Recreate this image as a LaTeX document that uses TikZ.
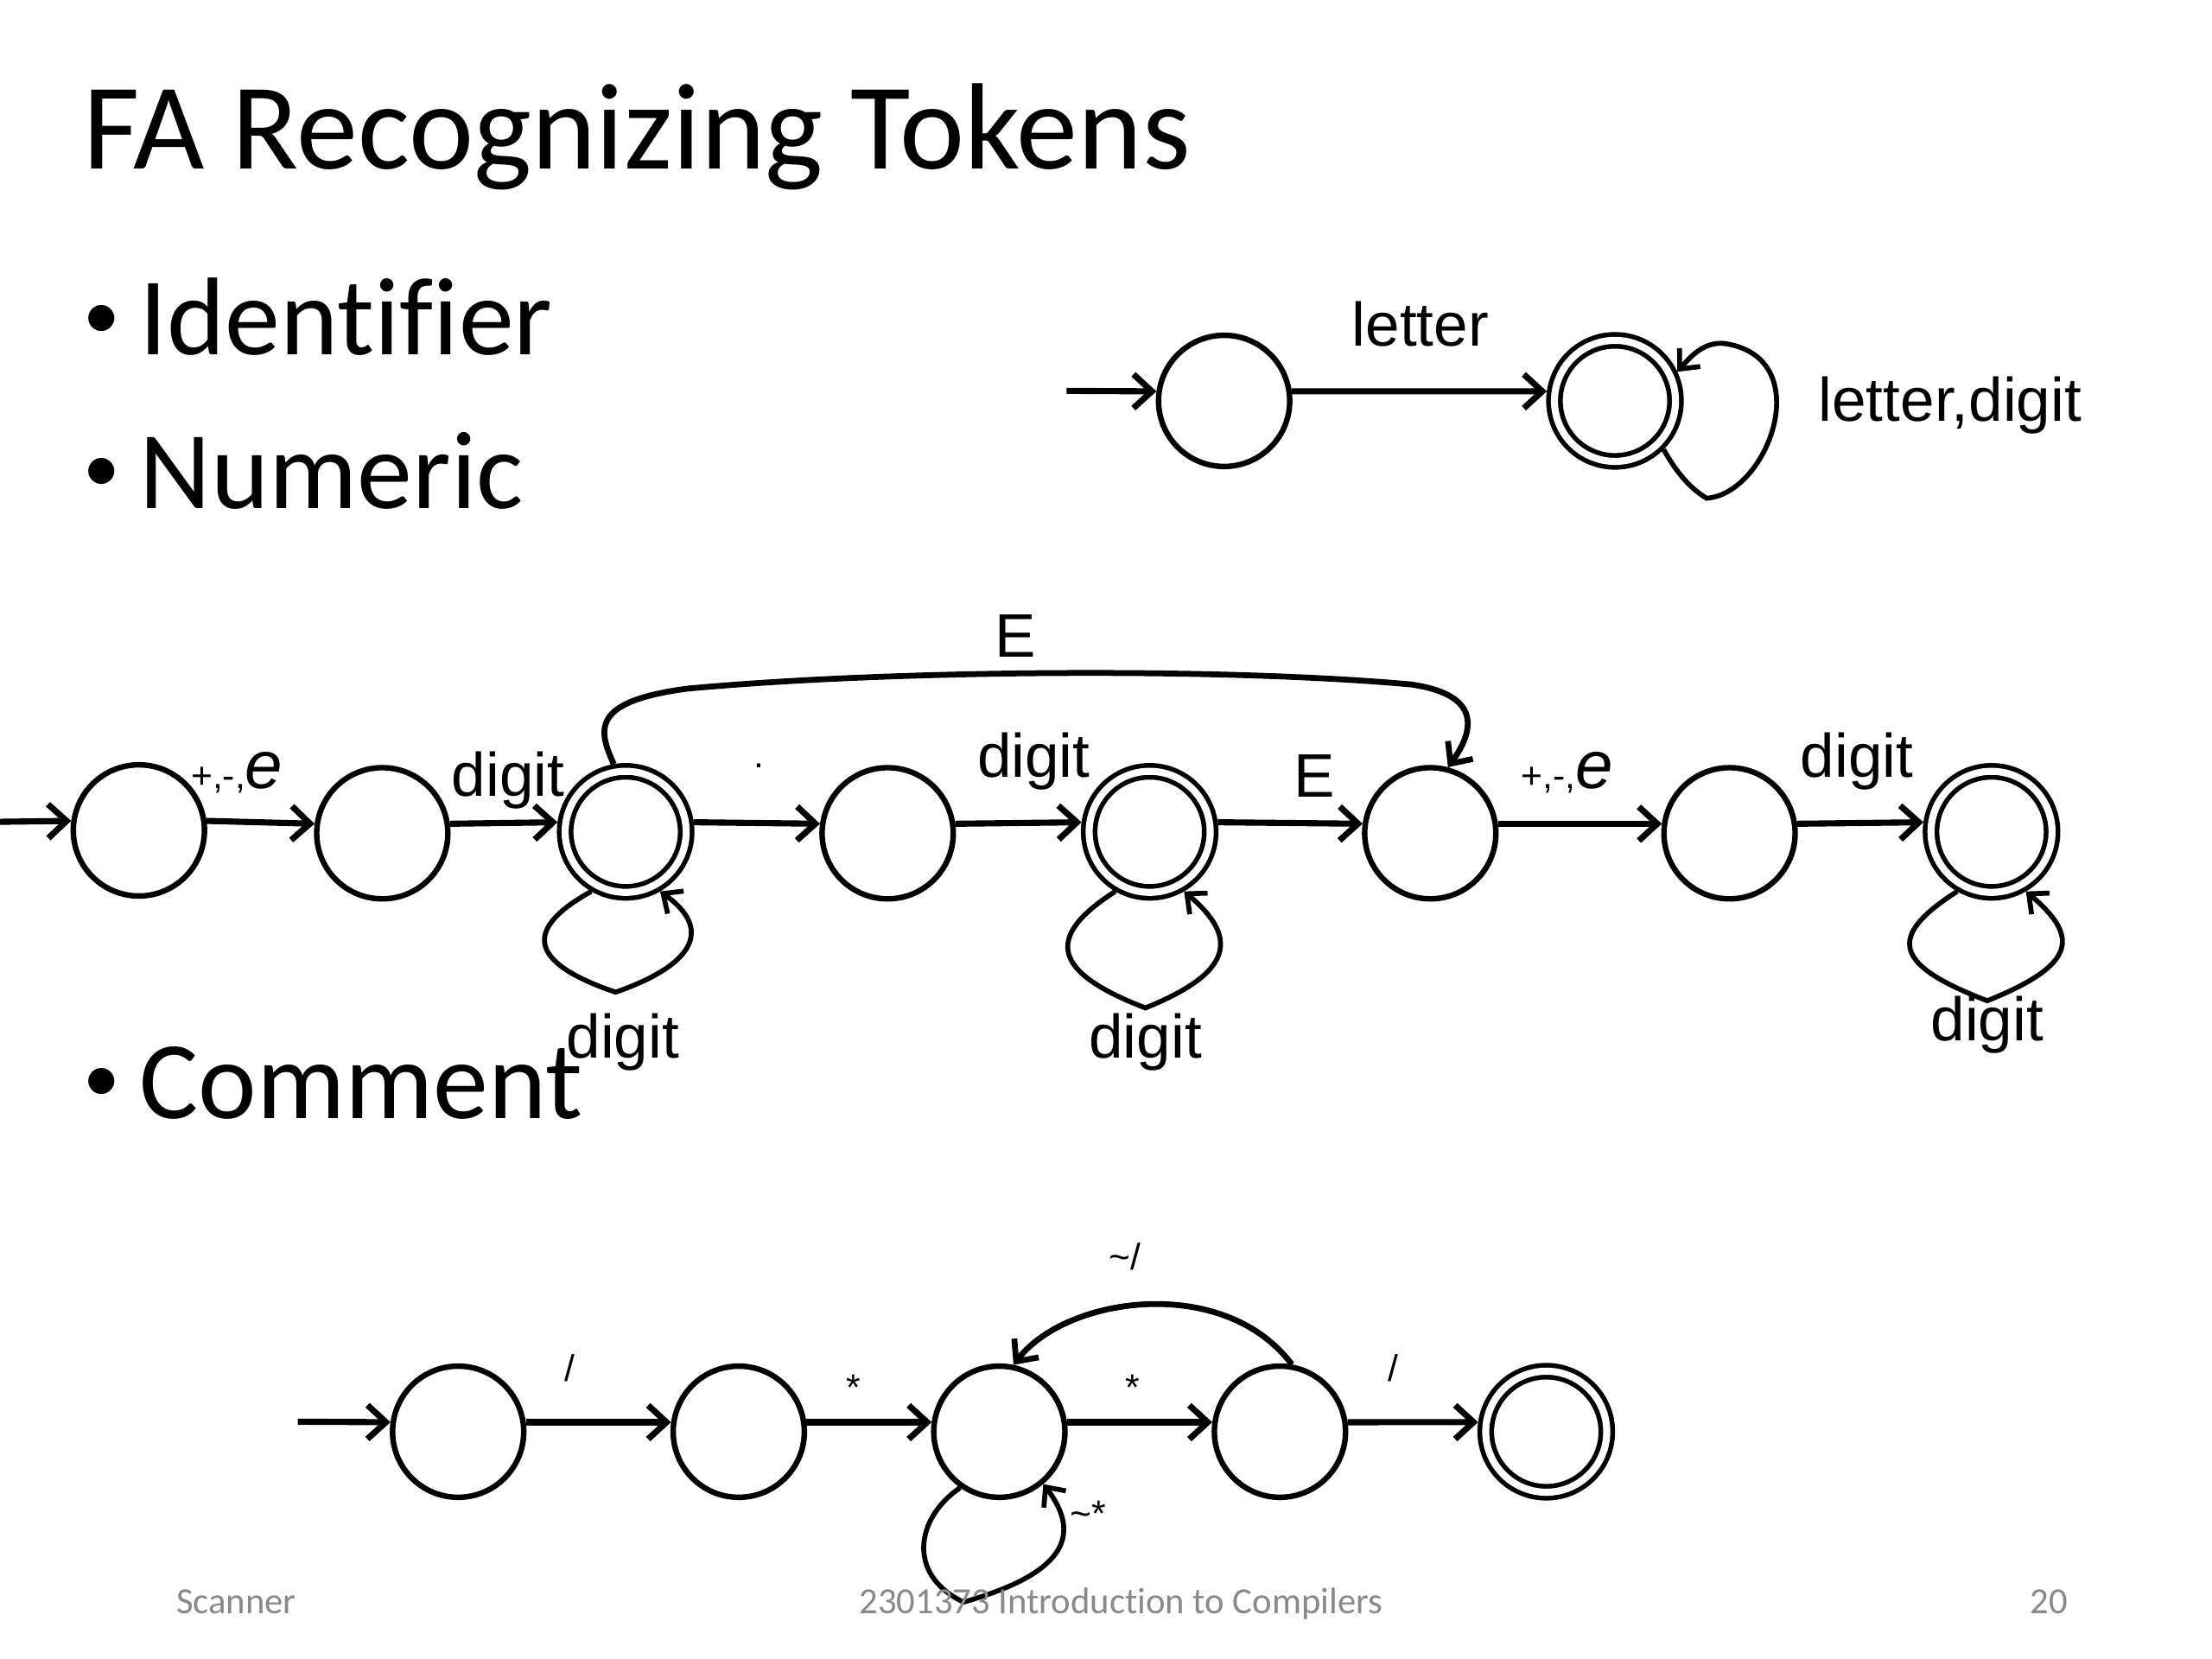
\documentclass[tikz,border=0pt]{standalone}
\usepackage{fontspec}
\setmainfont{Carlito}[Ligatures=NoCommon]
\newfontfamily\arialf{Liberation Sans}
\usetikzlibrary{arrows.meta}
\definecolor{footgray}{HTML}{898989}
\begin{document}
\begin{tikzpicture}[x=0.46602pt,y=-0.46602pt,
  st/.style={circle, draw, line width=1.8pt, minimum size=42.7pt, inner sep=0pt},
  acc/.style={circle, draw, line width=1.55pt, double, double distance=2.3pt, minimum size=39.4pt, inner sep=0pt, outer sep=2.7pt},
  tr/.style={line width=2pt, -{Straight Barb[length=6pt,width=11pt]}},
  lp/.style={line width=1.6pt, -{Straight Barb[length=5pt,width=9pt]}},
  arc/.style={line width=1.9pt, -{Straight Barb[length=5.5pt,width=10pt]}},
  lab/.style={font=\arialf\fontsize{20}{24}\selectfont, inner sep=0pt, anchor=base},
  sm/.style={font=\arialf\fontsize{12}{14}\selectfont, inner sep=0pt, anchor=base},
  pme/.style={font=\arialf, inner sep=0pt, anchor=base west},
  bul/.style={font=\fontsize{24}{29}\selectfont, inner sep=0pt, anchor=base west},
  btx/.style={font=\fontsize{36}{43}\selectfont, inner sep=0pt, anchor=base west},
  foot/.style={font=\fontsize{12}{14}\selectfont, text=footgray, inner sep=0pt, anchor=base}
]
\fill[white] (0,0) rectangle (1545,1158.75);
\useasboundingbox (0,0) rectangle (1545,1158.75);

% title and bullets
\node[inner sep=0pt, anchor=base west, font=\fontsize{40}{48}\selectfont] (title) at (58,118) {FA Recognizing Tokens};
\node[bul] (bu1) at (58,237) {•};
\node[btx] (tx1) at (97,248) {Identifier};
\node[bul] (bu2) at (58,344) {•};
\node[btx] (tx2) at (97,355) {Numeric};
\node[bul] (bu3) at (58,770) {•};
\node[btx] (tx3) at (97,781) {Comment};

% ---------- Identifier ----------
\coordinate (s1) at (745,273);
\node[st] (I0) at (855,280) {};
\node[acc] (I1) at (1128,280) {};
\draw[tr] (s1) -- (I0.172);
\draw[tr] (I0.8) -- (I1.172);
\node[lab] (lI1) at (992,242) {letter};
\path (I1.center) ++(64,68) coordinate (Ib);
\path (I1.center) ++(77,-40) coordinate (It);
\draw[lp] (I1.315) .. controls (1172,332) and (1182,342) .. (Ib)
  .. controls (1235,345) and (1270,250) .. (It)
  .. controls (1190,238) and (1180,250) .. (I1.25);
\node[lab] (lI2) at (1362,294) {letter,digit};

% ---------- Numeric ----------
\coordinate (s2) at (0,574);
\node[st]  (N0) at (97,580) {};
\node[st]  (N1) at (267,582) {};
\node[acc] (N2) at (437,581) {};
\node[st]  (N3) at (620,582) {};
\node[acc] (N4) at (803,581) {};
\node[st]  (N5) at (999,582) {};
\node[st]  (N6) at (1208,582) {};
\node[acc] (N7) at (1391,581) {};

\draw[tr] (s2) -- (N0.172);
\draw[tr] (N0.8) -- (N1.172);
\draw[tr] (N1.8) -- (N2.172);
\draw[tr] (N2.8) -- (N3.172);
\draw[tr] (N3.8) -- (N4.172);
\draw[tr] (N4.8) -- (N5.172);
\draw[tr] (N5.8) -- (N6.172);
\draw[tr] (N6.8) -- (N7.172);

\node[pme] (lN01) at (133,551) {\fontsize{12}{14}\selectfont +,-,\fontsize{22}{26}\selectfont\itshape e};
\node[lab] (lN12) at (355,556) {digit};
\node[sm]  (lN23) at (530,536) {.};
\node[lab] (lN34) at (722,543) {digit};
\node[lab] (lN45) at (918,557) {E};
\node[pme] (lN56) at (1062,551) {\fontsize{12}{14}\selectfont +,-,\fontsize{22}{26}\selectfont\itshape e};
\node[lab] (lN67) at (1297,543) {digit};

% E arc from N2 to N5
\draw[arc] (N2.100) .. controls (418,510) and (412,490) .. (480,481)
  .. controls (620,468) and (850,466) .. (985,478)
  .. controls (1035,485) and (1030,510) .. (N5.75);
\node[lab] (lN25) at (709,459) {E};

% loops
\path (N2.center) ++(-7,112) coordinate (N2b);
\draw[lp] (N2.240) .. controls +(-47,26) and +(-62,-21) .. (N2b)
  .. controls +(60,-21) and +(34,24) .. (N2.300);
\node[lab] (lN22) at (435,739) {digit};

\path (N4.center) ++(-3,123) coordinate (N4b);
\draw[lp] (N4.240) .. controls +(-50,32) and +(-65,-25) .. (N4b)
  .. controls +(62,-25) and +(38,32) .. (N4.300);
\node[lab] (lN44) at (800,739) {digit};

\path (N7.center) ++(-3,118) coordinate (N7b);
\draw[lp] (N7.240) .. controls +(-50,32) and +(-65,-25) .. (N7b)
  .. controls +(62,-25) and +(38,32) .. (N7.300);
\node[lab] (lN77) at (1388,727) {digit};

% ---------- Comment ----------
\coordinate (s3) at (208,993);
\node[st]  (C0) at (320,1000) {};
\node[st]  (C1) at (516,1000) {};
\node[st]  (C2) at (698,1000) {};
\node[st]  (C3) at (894,1000) {};
\node[acc] (C4) at (1080,1000) {};

\draw[tr] (s3) -- (C0.172);
\draw[tr] (C0.8) -- (C1.172);
\draw[tr] (C1.8) -- (C2.172);
\draw[tr] (C2.8) -- (C3.172);
\draw[tr] (C3.8) -- (C4.172);

\node[sm] (lC01) at (398,965) {/};
\node[sm] (lC12) at (596,978) {*};
\node[sm] (lC23) at (791,978) {*};
\node[sm] (lC34) at (973,965) {/};

\draw[arc] (C3.80) .. controls (855,890) and (745,905) .. (C2.78);
\node[sm] (lC32) at (786,887) {\textasciitilde/};

\path (C2.center) ++(-25,119) coordinate (C2b);
\draw[lp] (C2.235) .. controls +(-31,21) and +(-40,-19) .. (C2b)
  .. controls +(67,-19) and +(29,38) .. (C2.310);
\node[sm] (lC22) at (760,1066) {\textasciitilde*};

% footer
\node[foot] (f1) at (165,1127) {Scanner};
\node[foot] (f2) at (783,1127) {2301373 Introduction to Compilers};
\node[foot] (f3) at (1431,1127) {20};
\end{tikzpicture}
\end{document}
